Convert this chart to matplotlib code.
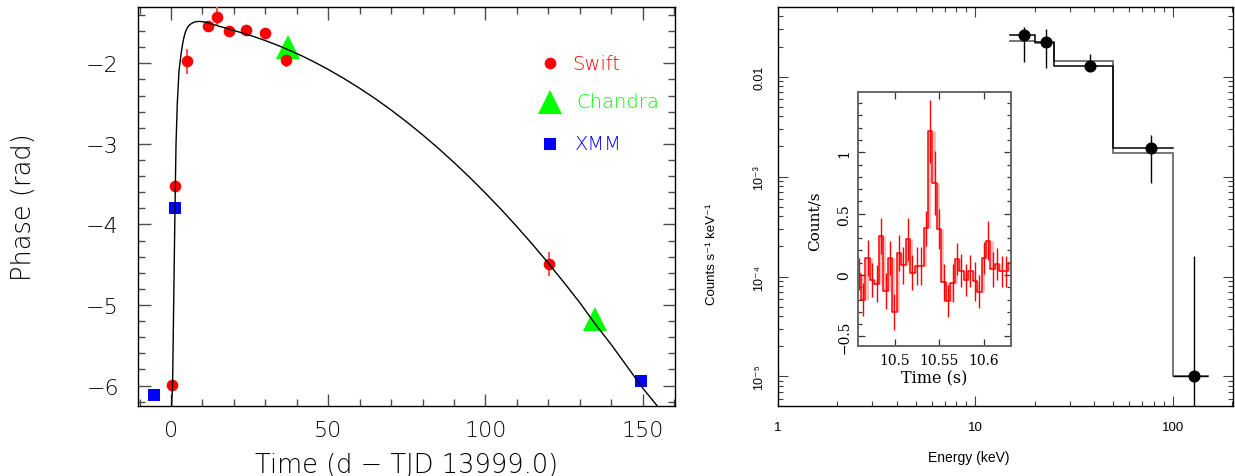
import numpy as np
import matplotlib
matplotlib.use('Agg')
import matplotlib.pyplot as plt
from matplotlib.ticker import FixedLocator, MultipleLocator, LogLocator, NullFormatter

# ---- left panel: phase vs time ----
swift_t = [0.4, 1.37, 5.1, 11.7, 14.7, 18.4, 23.9, 29.9, 36.5, 120.2]
swift_phi = [-5.99, -3.52, -1.975, -1.54, -1.42, -1.605, -1.59, -1.625, -1.96, -4.49]
swift_err = [0.04, 0.04, 0.155, 0.06, 0.12, 0.04, 0.05, 0.04, 0.08, 0.15]
chandra_t = [37.2, 135.0]
chandra_phi = [-1.80, -5.17]
xmm_t = [-5.3, 1.27, 149.4]
xmm_phi = [-6.12, -3.795, -5.94]

# model curve
curve_t = [0.1, 0.2, 0.5, 0.85, 1.27, 1.6, 2.0, 2.55, 3.2, 3.6, 4.1, 4.6, 5.3, 6.0,
           6.8, 7.6, 8.8, 10, 12, 14, 16, 18.8, 22, 26, 30, 34, 38, 42, 46, 50, 55,
           60, 65, 70, 75, 80, 85, 90, 95, 100, 105, 110, 115, 120, 125, 130, 135,
           140, 145, 150, 154.6, 156]
curve_phi = [-6.5, -6.25, -6.0, -4.99, -3.8, -3.0, -2.5, -2.09, -1.885, -1.78, -1.68,
             -1.61, -1.55, -1.52, -1.50, -1.487, -1.48, -1.483, -1.50, -1.525, -1.548,
             -1.578, -1.616, -1.664, -1.718, -1.778, -1.844, -1.915, -1.993, -2.076,
             -2.189, -2.31, -2.44, -2.58, -2.729, -2.887, -3.054, -3.231, -3.416,
             -3.611, -3.814, -4.027, -4.249, -4.481, -4.721, -4.97, -5.24, -5.49,
             -5.76, -6.03, -6.25, -6.34]

# ---- right panel: spectrum ----
bin_edges = [15, 20, 25, 50, 100, 150]
spec_e = [17.7, 22.8, 38.0, 77.1, 128.0]
spec_rate = [0.0261, 0.0221, 0.0127, 0.00194, 1.0e-5]
spec_hi = [0.0312, 0.0300, 0.01687, 0.00261, 1.62e-4]
spec_lo = [0.0139, 0.0121, 0.01148, 0.000865, 1.0e-7]
model_rate = [0.0229, 0.0216, 0.01426, 0.00171, 1.0e-5]

# ---- inset: light curve ----
lc_t0 = 10.4573
lc_dt = 0.005
lc_rate = [0.01, -0.2, 0.14, -0.04, -0.07, 0.32, -0.13, 0.14, -0.3, 0.18, 0.08, 0.29,
           0.02, 0.07, 0.07, 0.38, 1.17, 0.75, 0.375, -0.06, -0.21, -0.065, 0.13, 0.035,
           -0.04, 0.03, -0.05, -0.135, 0.14, 0.28, 0.046, 0.09, 0.03, 0.03, 0.10]
lc_err = [0.13, 0.133, 0.145, 0.137, 0.15, 0.145, 0.15, 0.14, 0.145, 0.15, 0.15, 0.175,
          0.14, 0.155, 0.155, 0.14, 0.26, 0.26, 0.16, 0.15, 0.13, 0.155, 0.13, 0.135,
          0.13, 0.13, 0.16, 0.135, 0.13, 0.16, 0.14, 0.13, 0.125, 0.125, 0.115]

W, H = 1235, 477
fig = plt.figure(figsize=(W / 100, H / 100), dpi=100)

def box(l, t, r, b):
    return [l / W, 1 - b / H, (r - l) / W, (b - t) / H]

# ================= left =================
ax = fig.add_axes(box(138.3, 8.3, 675, 406.7))
ax.plot(curve_t, curve_phi, color='black', lw=1.0, zorder=5)
ax.errorbar(swift_t, swift_phi, yerr=swift_err, fmt='o', color='red', ms=8.4,
            mew=0, ecolor='#ff5555', elinewidth=1.5, zorder=3)
ax.plot(chandra_t, chandra_phi, '^', color='#00ff00', ms=17, mew=0, zorder=3)
ax.plot(xmm_t, xmm_phi, 's', color='blue', ms=8.5, mew=0, zorder=3)

ax.set_xlim(-10.4, 160.3)
ax.set_ylim(-6.25, -1.305)
ax.xaxis.set_major_locator(FixedLocator([0, 50, 100, 150]))
ax.xaxis.set_minor_locator(MultipleLocator(10))
ax.yaxis.set_major_locator(FixedLocator([-6, -5, -4, -3, -2]))
ax.yaxis.set_minor_locator(MultipleLocator(0.2))
ax.tick_params(which='both', direction='in', top=True, right=True, color='0.3', width=1.0)
ax.tick_params(which='major', length=9)
ax.tick_params(which='minor', length=4.8)
ax.tick_params(axis='x', labelsize=16, pad=10)
ax.tick_params(axis='y', labelsize=16, pad=14)
for lab in ax.get_xticklabels() + ax.get_yticklabels():
    lab.set_fontweight('light')
for s in ax.spines.values():
    s.set_linewidth(1.0)

# legend
lx = (550 - 138.3) / (675 - 138.3)
for yy, mk, col, ms, txt, tx in [(0.8594, 'o', 'red', 8.4, 'Swift', 0.808),
                                  (0.7623, '^', '#00ff00', 17, 'Chandra', 0.817),
                                  (0.6569, 's', 'blue', 8.5, 'XMM', 0.813)]:
    ax.plot([lx], [yy], mk, color=col, ms=ms, mew=0, transform=ax.transAxes, clip_on=False)
    ax.text(tx, yy, txt, color=col, fontsize=14, va='center', ha='left',
            fontweight='light', transform=ax.transAxes)

fig.text(406.6 / W, 1 - 465 / H, 'Time (d \u2212 TJD 13999.0)', fontsize=18.5,
         fontweight='light', ha='center', va='center')
fig.text(24 / W, 1 - 207.5 / H, 'Phase (rad)', fontsize=18.5, rotation=90,
         fontweight='light', ha='center', va='center')

# ================= right =================
sans = ['Liberation Sans', 'DejaVu Sans']
ax2 = fig.add_axes(box(778, 8.3, 1232.7, 406.7))
ax2.set_xscale('log')
ax2.set_yscale('log')
ax2.step(bin_edges, model_rate + [model_rate[-1]], where='post', color='0.42', lw=1.3)
ax2.step(bin_edges[:5], spec_rate[:4] + [spec_rate[3]], where='post', color='black', lw=1.1)
ylo = np.array(spec_rate) - np.array(spec_lo)
yhi = np.array(spec_hi) - np.array(spec_rate)
ax2.errorbar(spec_e, spec_rate, yerr=[ylo, yhi], fmt='o', color='black', ms=7.7,
             ecolor='black', elinewidth=1.0)
ax2.errorbar(spec_e[4:], spec_rate[4:],
             xerr=[[spec_e[4] - bin_edges[4]], [bin_edges[5] - spec_e[4]]],
             fmt='none', ecolor='black', elinewidth=1.0)
ax2.set_xlim(1, 201)
ax2.set_ylim(5.1e-6, 0.0494)
ax2.xaxis.set_major_locator(FixedLocator([1, 10, 100]))
ax2.set_xticklabels(['1', '10', '100'], family=sans)
ax2.xaxis.set_minor_locator(LogLocator(base=10, subs=np.arange(2, 10), numticks=20))
ax2.xaxis.set_minor_formatter(NullFormatter())
ax2.yaxis.set_major_locator(FixedLocator([1e-5, 1e-4, 1e-3, 1e-2]))
ax2.set_yticklabels(['10\u207b\u2075', '10\u207b\u2074', '10\u207b\u00b3', '0.01'], family=sans)
ax2.yaxis.set_minor_locator(LogLocator(base=10, subs=np.arange(2, 10), numticks=20))
ax2.yaxis.set_minor_formatter(NullFormatter())
ax2.tick_params(which='both', direction='in', top=True, right=True, color='0.25', width=0.8)
ax2.tick_params(which='major', length=7.5)
ax2.tick_params(which='minor', length=3.8)
ax2.tick_params(axis='x', labelsize=9.5, pad=11)
ax2.tick_params(axis='y', labelsize=9, pad=9, labelrotation=90)
for lab in ax2.get_yticklabels():
    lab.set_va('center')
for s in ax2.spines.values():
    s.set_linewidth(1.0)
fig.text(969 / W, 1 - 457.7 / H, 'Energy (keV)', fontsize=10, family=sans,
         ha='center', va='center')
fig.text(712 / W, 1 - 254 / H, 'Counts s\u207b\u00b9 keV\u207b\u00b9', fontsize=9.5,
         family=sans, rotation=90, ha='center', va='center')

# ================= inset =================
serif = ['DejaVu Serif']
ax3 = fig.add_axes(box(858.3, 93.3, 1011.3, 346.7))
n = len(lc_rate)
edges = lc_t0 + lc_dt * np.arange(n + 1)
centers = edges[:-1] + lc_dt / 2
r = np.array(lc_rate)
# faint halo next to the step risers
ax3.vlines(edges[1:-1] + 0.0012, np.minimum(r[:-1], r[1:]), np.maximum(r[:-1], r[1:]),
           color='#ff8a8a', lw=2.0, alpha=0.6, zorder=1)
ax3.step(edges, np.append(r, r[-1]), where='post', color='red', lw=1.1, zorder=2)
ax3.errorbar(centers, r, yerr=lc_err, fmt='none', ecolor='red', elinewidth=1.0, zorder=2)
ax3.set_xlim(10.4593, 10.6306)
ax3.set_ylim(-0.576, 1.489)
ax3.xaxis.set_major_locator(FixedLocator([10.5, 10.55, 10.6]))
ax3.set_xticklabels(['10.5', '10.55', '10.6'], family=serif)
ax3.yaxis.set_major_locator(FixedLocator([-0.5, 0, 0.5, 1]))
ax3.set_yticklabels(['\u22120.5', '0', '0.5', '1'], family=serif)
ax3.yaxis.set_minor_locator(MultipleLocator(0.1))
ax3.tick_params(which='both', direction='in', top=True, right=True, color='0.2', width=0.9)
ax3.tick_params(which='major', length=5)
ax3.tick_params(which='minor', length=2.8)
ax3.tick_params(axis='x', labelsize=10, pad=5)
ax3.tick_params(axis='y', labelsize=10, pad=5, labelrotation=90)
for lab in ax3.get_yticklabels():
    lab.set_va('center')
for s in ax3.spines.values():
    s.set_linewidth(1.4)
    s.set_color('0.4')
fig.text(934.5 / W, 1 - 379 / H, 'Time (s)', fontsize=11.5, family=serif,
         ha='center', va='center')
fig.text(815 / W, 1 - 221 / H, 'Count/s', fontsize=11, family=serif, rotation=90,
         ha='center', va='center')

fig.savefig('out.png', dpi=100)
